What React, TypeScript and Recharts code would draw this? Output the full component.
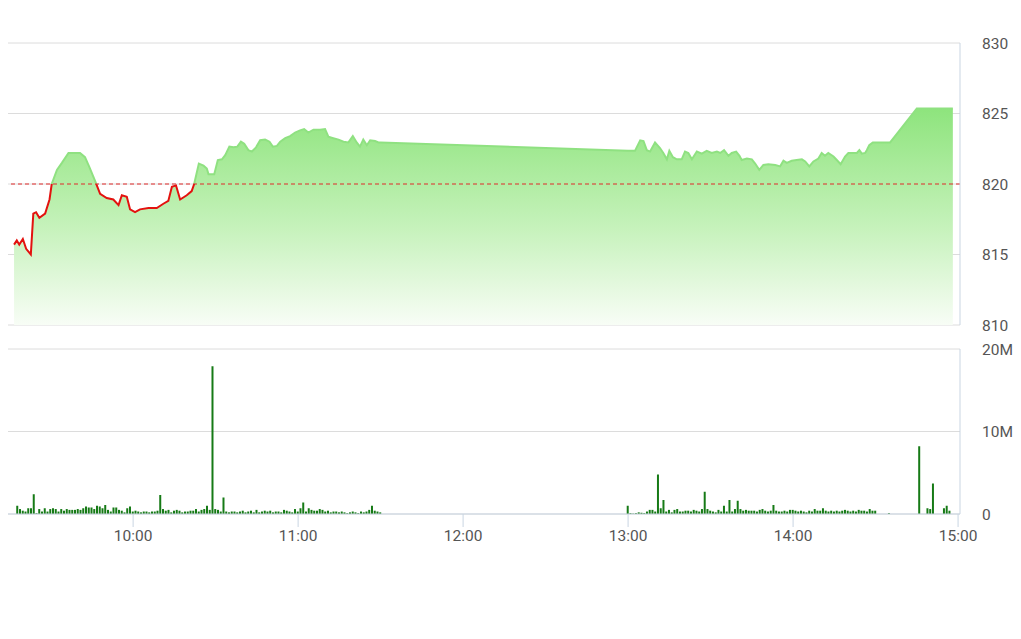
import {
  AreaChart,
  Area,
  BarChart,
  Bar,
  XAxis,
  YAxis,
  CartesianGrid,
  ReferenceLine,
} from "recharts";

// time = minutes after 9:00
const morningTimes = [
  16.7, 17.7, 18.6, 19.9, 21.1, 22.8, 23.7, 24.7, 25.9, 28,
  29.6, 30.4, 32.3, 34.1, 36.5, 40.7, 42.5, 44.1, 46.2, 48,
  50.4, 52.8, 54.7, 55.9, 57.7, 58.9, 60.7, 62.5, 65.6, 68.6,
  71, 72.8, 74.1, 75.6, 77.1, 79.5, 81.3, 82.2, 83.9, 85.6,
  86.8, 87.4, 89.5, 90.8, 92.3, 93.5, 95, 96.5, 97.9, 99.2,
  100.4, 101.9, 103.2, 104.7, 106.2, 108, 109.6, 110.8, 112.3, 113.5,
  115.3, 117.1, 118.9, 120.7, 122.2, 123.7, 125.6, 128, 129.8, 131,
  132.8, 134.7, 136.5, 138.3, 139.9, 141.3, 142.5, 143.7, 145, 146.2,
  148, 149.2, 150,
];
const morningPrices = [
  815.7, 816.0, 815.7, 816.1, 815.4, 815.0, 817.9, 818.0, 817.6, 817.9,
  818.9, 820.0, 821.0, 821.5, 822.2, 822.2, 821.9, 821.2, 820.2, 819.3,
  819.0, 818.9, 818.5, 819.2, 819.1, 818.2, 818.0, 818.2, 818.3, 818.3,
  818.6, 818.8, 819.8, 819.9, 818.9, 819.2, 819.5, 820.0, 821.45, 821.3,
  821.1, 820.7, 820.7, 821.7, 821.75, 822.05, 822.65, 822.6, 822.65, 823.0,
  822.85, 822.4, 822.3, 822.6, 823.1, 823.15, 823.0, 822.65, 822.7, 823.0,
  823.25, 823.4, 823.65, 823.8, 823.9, 823.65, 823.85, 823.85, 823.9, 823.35,
  823.25, 823.15, 823.0, 822.95, 823.4, 822.95, 822.65, 823.15, 822.75, 823.1,
  823.05, 822.95, 822.95,
];
const afternoonTimes = [
  240, 242.5, 244.4, 245.6, 246.8, 248, 249.8, 251.6, 252.8, 254.1,
  255, 256.3, 257.7, 259.5, 260.7, 261.9, 263.2, 265, 266.8, 268.6,
  270.4, 272.3, 273.5, 274.9, 276.5, 277.7, 279.3, 280.5, 281.3, 283.2,
  285, 286.2, 287.7, 289.2, 291, 293.5, 295.3, 296.5, 297.7, 299.5,
  301.3, 303.2, 304.4, 305.9, 307.4, 309.2, 310.4, 311.6, 312.8, 314.7,
  315.9, 317.3, 318.9, 320.1, 321.7, 323.2, 324.1, 325, 326.2, 326.8,
  327.7, 329, 335.3, 345, 358.1,
];
const afternoonPrices = [
  822.35, 822.35, 823.1, 823.05, 822.4, 822.3, 822.95, 822.55, 822.2, 821.75,
  822.35, 821.9, 821.75, 821.75, 822.3, 822.2, 821.75, 822.3, 822.15, 822.35,
  822.2, 822.3, 822.2, 822.4, 822.0, 822.2, 822.3, 822.0, 821.7, 821.8,
  821.75, 821.45, 821.0, 821.35, 821.4, 821.35, 821.25, 821.65, 821.5, 821.65,
  821.7, 821.75, 821.6, 821.25, 821.6, 821.8, 822.2, 822.0, 822.2, 821.95,
  821.7, 821.4, 821.95, 822.2, 822.2, 822.2, 822.4, 822.15, 822.2, 822.4,
  822.75, 822.95, 822.95, 825.35, 825.35,
];

const refPrice = 820;
const priceTicks = [810, 815, 820, 825, 830];

// volume in millions, one bar per minute
const volMorningStart = 18;
const volMorning = [
  1.0, 0.6, 0.4, 0.3, 0.7, 0.7, 2.4, 0.1, 0.6, 0.3, 0.7, 0.3,
  0.6, 0.7, 0.6, 0.3, 0.6, 0.4, 0.6, 0.5, 0.5, 0.5,
  0.6, 0.5, 0.7, 0.9, 0.8, 0.8, 0.6, 1.0, 0.9, 0.7,
  1.1, 0.5, 0.3, 0.8, 0.8, 0.5, 0.4, 0.2, 0.7, 0.9,
  0.3, 0.4, 0.3, 0.2, 0.3, 0.3, 0.2, 0.3, 0.3, 0.4,
  2.3, 0.6, 0.4, 0.5, 0.2, 0.4, 0.5, 0.4, 0.2, 0.3,
  0.3, 0.4, 0.4, 0.6, 0.3, 0.5, 0.6, 1.0, 0.5, 17.9,
  0.6, 0.5, 0.3, 2.0, 0.3, 0.2, 0.3, 0.3, 0.2, 0.3,
  0.4, 0.2, 0.3, 0.4, 0.2, 0.5, 0.2, 0.3, 0.4, 0.3,
  0.4, 0.2, 0.3, 0.3, 0.2, 0.5, 0.4, 0.3, 0.2, 0.6,
  0.3, 0.7, 1.4, 0.3, 0.7, 0.5, 0.4, 0.4, 0.6, 0.5,
  0.3, 0.4, 0.2, 0.3, 0.3, 0.2, 0.3, 0.2, 0.1, 0.2,
  0.3, 0.2, 0.1, 0.3, 0.2, 0.3, 0.5, 1.0, 0.4, 0.3,
  0.2,
];
const volAfternoonStart = 240;
const volAfternoon = [
  1.0, 0.1, 0.05, 0.1, 0.2, 0.15, 0.1, 0.3, 0.5, 0.5,
  0.3, 4.8, 0.7, 1.7, 0.3, 0.5, 0.2, 0.5, 0.6, 0.3,
  0.3, 0.4, 0.4, 0.3, 0.5, 0.4, 0.3, 0.6, 2.7, 0.6,
  0.4, 0.3, 0.2, 0.5, 0.3, 1.0, 0.3, 1.7, 0.3, 0.6,
  1.6, 0.6, 0.4, 0.5, 0.4, 0.4, 0.4, 0.3, 0.5, 0.6,
  0.4, 0.3, 0.4, 1.1, 0.4, 0.3, 0.3, 0.4, 0.3, 0.5,
  0.5, 0.4, 0.3, 0.4, 0.3, 0.2, 0.4, 0.3, 0.6, 0.4,
  0.4, 0.7, 0.4, 0.3, 0.4, 0.3, 0.4, 0.3, 0.4, 0.5,
  0.4, 0.3, 0.4, 0.3, 0.5, 0.4, 0.4, 0.3, 0.6, 0.4,
  0.4,
];
const volLateTimes = [335, 346, 349, 350, 351, 355, 356, 357];
const volLate = [0.1, 8.2, 0.7, 0.6, 3.7, 0.7, 1.0, 0.4];
const volumeTicks = [0, 10, 20];

const timeTicks = [60, 120, 180, 240, 300, 360];
const timeDomain = [14.5, 360.7];

const priceData = [
  ...morningTimes.map((t, i) => ({ t, price: morningPrices[i] })),
  ...afternoonTimes.map((t, i) => ({ t, price: afternoonPrices[i] })),
];

const volumeData = [
  ...volMorning.map((v, i) => ({ t: volMorningStart + i, vol: v })),
  ...volAfternoon.map((v, i) => ({ t: volAfternoonStart + i, vol: v })),
  ...volLateTimes.map((t, i) => ({ t, vol: volLate[i] })),
];

const allPrices = priceData.map((d) => d.price);
const maxPrice = Math.max(...allPrices);
const minPrice = Math.min(...allPrices);
const splitOffset = (maxPrice - refPrice) / (maxPrice - minPrice);

const formatTime = (t: number) => {
  const h = 9 + Math.floor(t / 60);
  const m = Math.round(t % 60);
  return `${h}:${m < 10 ? "0" + m : m}`;
};

const formatVolume = (v: number) => (v === 0 ? "0" : `${v}M`);

const axisColor = "#c9d5e2";
const gridColor = "#dcdcdc";
const labelStyle = { fill: "#555", fontSize: 15.5 };

export default function App() {
  return (
    <div
      style={{
        position: "relative",
        width: 1005,
        height: 600,
        fontFamily: "Roboto, sans-serif",
      }}
    >
      {/* Price panel */}
      <div style={{ position: "absolute", left: 0, top: 0 }}>
        <AreaChart
          width={1005}
          height={330}
          data={priceData}
          margin={{ top: 35, right: 0, bottom: 13, left: 0 }}
        >
          <defs>
            <linearGradient id="priceFill" x1="0" y1="0" x2="0" y2="1">
              <stop offset="0%" stopColor="#8ee47d" />
              <stop offset="55%" stopColor="#c6f2bb" />
              <stop offset="100%" stopColor="#f8fdf6" />
            </linearGradient>
            <linearGradient id="priceStroke" x1="0" y1="0" x2="0" y2="1">
              <stop offset={splitOffset} stopColor="#8fe181" />
              <stop offset={splitOffset} stopColor="#e3120f" />
            </linearGradient>
          </defs>
          <CartesianGrid vertical={false} stroke={gridColor} />
          <XAxis
            dataKey="t"
            type="number"
            domain={timeDomain}
            allowDataOverflow
            hide
          />
          <YAxis
            orientation="right"
            width={53}
            domain={[810, 830]}
            ticks={priceTicks}
            interval={0}
            axisLine={{ stroke: axisColor }}
            tickLine={false}
            tickSize={0}
            tickMargin={22}
            tick={labelStyle}
          />
          <Area
            type="linear"
            dataKey="price"
            baseValue={810}
            stroke="url(#priceStroke)"
            strokeWidth={2}
            fill="url(#priceFill)"
            fillOpacity={1}
            dot={false}
            activeDot={false}
            isAnimationActive={false}
          />
          <ReferenceLine
            y={refPrice}
            stroke="#e02a2a"
            strokeDasharray="4 3"
            strokeWidth={1.2}
          />
        </AreaChart>
      </div>

      {/* Volume panel */}
      <div style={{ position: "absolute", left: 0, top: 331 }}>
        <BarChart
          width={1005}
          height={215}
          data={volumeData}
          margin={{ top: 10, right: 0, bottom: 0, left: 0 }}
        >
          <CartesianGrid vertical={false} stroke={gridColor} />
          <XAxis
            dataKey="t"
            type="number"
            domain={timeDomain}
            allowDataOverflow
            ticks={timeTicks}
            interval={0}
            tickFormatter={formatTime}
            height={40}
            axisLine={{ stroke: axisColor }}
            tickLine={{ stroke: axisColor }}
            tickSize={13}
            tickMargin={3}
            tick={labelStyle}
          />
          <YAxis
            orientation="right"
            width={53}
            domain={[0, 20]}
            ticks={volumeTicks}
            interval={0}
            tickFormatter={formatVolume}
            axisLine={{ stroke: axisColor }}
            tickLine={false}
            tickSize={0}
            tickMargin={22}
            tick={labelStyle}
          />
          <Bar
            dataKey="vol"
            fill="#167a16"
            barSize={2}
            isAnimationActive={false}
          />
        </BarChart>
      </div>
    </div>
  );
}
